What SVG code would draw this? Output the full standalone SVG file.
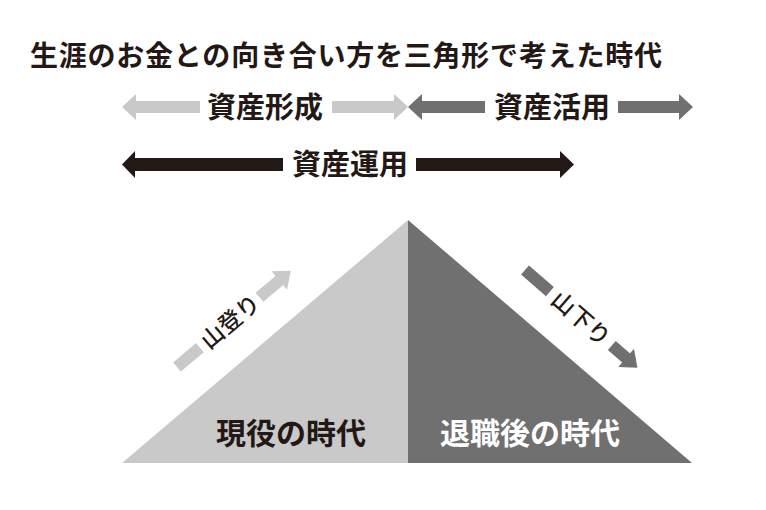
<svg xmlns="http://www.w3.org/2000/svg" width="766" height="510" viewBox="0 0 766 510">
<style>
.t{font-family:"Noto Sans CJK JP","Noto Sans",sans-serif;font-weight:bold;fill:#231815}
.m{font-weight:500}
.w{fill:#ffffff}
.lg{fill:#c9c9c9}
.dg{fill:#717071}
.bk{fill:#231815}
</style>
<rect width="766" height="510" fill="#ffffff"/>
<text id="title" class="t" x="30" y="66" font-size="28" textLength="632" lengthAdjust="spacing">生涯のお金との向き合い方を三角形で考えた時代</text>
<g id="triangle">
<polygon class="lg" points="122,463 408,220 408,463"/>
<polygon class="dg" points="408,220 692,463 408,463"/>
</g>
<g id="connectors">
<g id="arrow-keisei">
<path class="lg" d="M122,107 L136,94 L136,101 L200,101 L200,113 L136,113 L136,120 Z"/>
<path class="lg" d="M332,101 L394,101 L394,94 L408,107 L394,120 L394,113 L332,113 Z"/>
</g>
<g id="arrow-katsuyo">
<path class="dg" d="M408,107 L422,94 L422,101 L485,101 L485,113 L422,113 L422,120 Z"/>
<path class="dg" d="M618,101 L679,101 L679,94 L693,107 L679,120 L679,113 L618,113 Z"/>
</g>
<g id="arrow-unyo">
<path class="bk" d="M122,164.5 L135,151 L135,158 L283,158 L283,171 L135,171 L135,178 Z"/>
<path class="bk" d="M416,158 L560,158 L560,151 L574,164.5 L560,178 L560,171 L416,171 Z"/>
</g>
<g id="arrow-nobori" transform="translate(177,367) rotate(-40.2)">
<rect class="lg" x="0" y="-6" width="30" height="12"/>
<rect class="lg" x="108" y="-6" width="28" height="12"/>
<polygon class="lg" points="134,-12 149,0 134,12"/>
</g>
<g id="arrow-kudari" transform="translate(525,270) rotate(41)">
<rect class="dg" x="0" y="-6" width="33" height="12"/>
<rect class="dg" x="115" y="-6" width="21" height="12"/>
<polygon class="dg" points="134,-12 149,0 134,12"/>
</g>
</g>
<g id="label-keisei"><text class="t" x="265" y="117.5" font-size="29" text-anchor="middle">資産形成</text></g>
<g id="label-katsuyo"><text class="t" x="552" y="117.5" font-size="29" text-anchor="middle">資産活用</text></g>
<g id="label-unyo"><text class="t" x="350" y="175" font-size="29" text-anchor="middle">資産運用</text></g>
<g id="label-nobori" transform="translate(177,367) rotate(-40.2)"><text class="t m" x="70" y="8" font-size="23" text-anchor="middle">山登り</text></g>
<g id="label-kudari" transform="translate(525,270) rotate(41)"><text class="t m" x="74" y="8" font-size="23" text-anchor="middle">山下り</text></g>
<g id="label-genneki"><text class="t" x="291" y="444" font-size="30" text-anchor="middle">現役の時代</text></g>
<g id="label-taishoku"><text class="t w" x="530" y="444" font-size="30" text-anchor="middle">退職後の時代</text></g>
</svg>
